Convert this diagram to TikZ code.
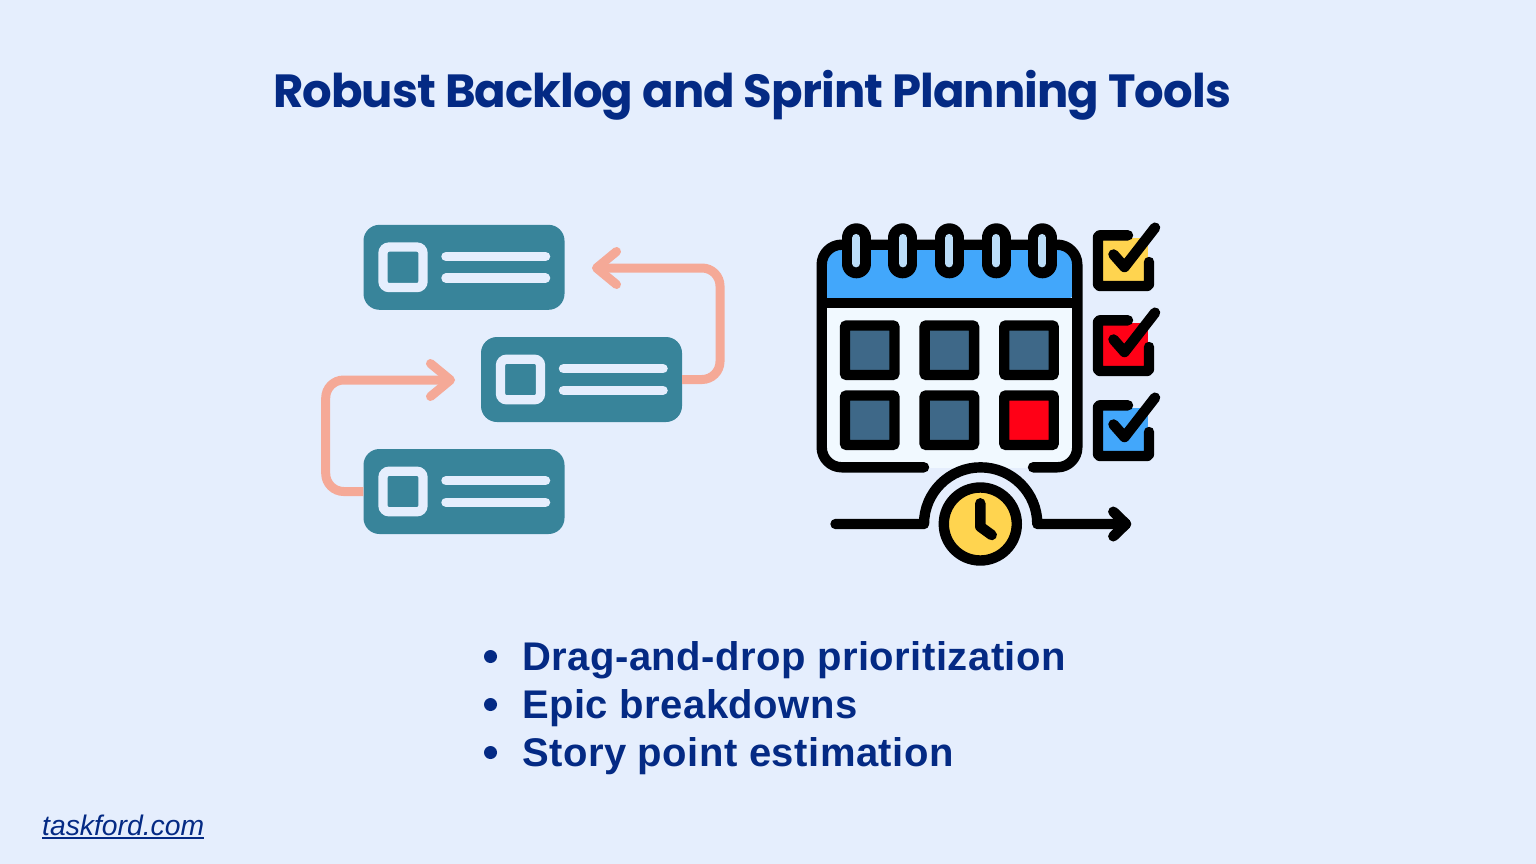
\documentclass[tikz,border=0pt]{standalone}
\usepackage{fontspec}
\setmainfont{Liberation Sans}
\newfontfamily\titlefont[LetterSpace=-2]{Poppins}
\newfontfamily\listfont[LetterSpace=1.2]{Liberation Sans}
\usetikzlibrary{arrows.meta,calc}
\definecolor{pagebg}{HTML}{E5EEFD}
\definecolor{inkblue}{HTML}{042A84}
\definecolor{cardteal}{HTML}{38849A}
\definecolor{flowpeach}{HTML}{F5A997}
\definecolor{calblue}{HTML}{42A7FB}
\definecolor{calwhite}{HTML}{F1F9FF}
\definecolor{slitblue}{HTML}{BBDDF8}
\definecolor{slateblue}{HTML}{3E6888}
\definecolor{alertred}{HTML}{FF0016}
\definecolor{sunyellow}{HTML}{FFD44F}
\tikzset{
    cardbox/.style={fill=cardteal, rounded corners=16pt, minimum width=201pt, minimum height=85pt, inner sep=0pt},
    cardmark/.style={draw=pagebg, line width=9.3pt, rounded corners=6pt, minimum width=40pt, minimum height=40.5pt, inner sep=0pt},
    cardline/.style={pagebg, line width=9.5pt, line cap=round},
    flowline/.style={flowpeach, line width=9pt, rounded corners=18pt, -{Straight Barb[round,length=20pt,width=33pt]}},
    ink/.style={black, line width=10.4pt, line cap=round, line join=round},
    daybox/.style={draw=black, line width=10.4pt, rounded corners=2pt, minimum size=49.5pt, inner sep=0pt},
    listtext/.style={anchor=base west, inner sep=0pt, text=inkblue, font=\listfont\fontsize{40}{40}\selectfont\bfseries}
}
\begin{document}
\begin{tikzpicture}[x=1pt,y=-1pt]
    \useasboundingbox[fill=pagebg] (0,0) rectangle (1536,864);

    % heading
    \node[anchor=base, inner sep=0pt, text=inkblue, font=\titlefont\fontsize{46.5}{46.5}\selectfont\bfseries] (heading) at (752,107.5) {Robust Backlog and Sprint Planning Tools};

    % backlog cards
    \foreach \cname/\cx/\cy in {cardtop/464/267.3, cardmid/581.5/379.5, cardlow/464/491.5} {
        \node[cardbox] (\cname) at (\cx,\cy) {};
        \node[cardmark] (\cname-mark) at ($(\cname)+(-61,0)$) {};
        \draw[cardline] (\cx-18,\cy-10.8) -- (\cx+81.5,\cy-10.8);
        \draw[cardline] (\cx-18,\cy+10.8) -- (\cx+81.5,\cy+10.8);
    }
    \coordinate (backtip) at (592,268);
    \coordinate (forwardtip) at (455,380);
    \draw[flowline] (cardmid.east) -- (720,379.5) -- (720,268) -- (backtip);
    \draw[flowline] (cardlow.west) -- (325.7,491.5) -- (325.7,380) -- (forwardtip);

    % calendar
    \fill[calwhite, rounded corners=20pt] (821.7,303) -- (821.7,467.8) -- (1077.3,467.8) -- (1077.3,303) [sharp corners] -- cycle;
    \fill[calblue, rounded corners=20pt] (821.7,303) -- (821.7,244.7) -- (1077.3,244.7) -- (1077.3,303) [sharp corners] -- cycle;
    \draw[ink, rounded corners=20pt] (924,467.3) -- (821.7,467.3) -- (821.7,244.7) -- (1077.3,244.7) -- (1077.3,467.3) -- (1033,467.3);
    \draw[ink, line width=10.5pt, line cap=butt] (821.7,303) -- (1077.3,303);
    \foreach \rx in {856.3, 902.7, 949.3, 996, 1042.3} {
        \draw[black, line width=29pt, line cap=round] (\rx,237.8) -- (\rx,263.8);
        \draw[slitblue, line width=7.7pt, line cap=round] (\rx,237.8) -- (\rx,263.5);
    }
    \foreach \dname/\dx/\dy/\dcol in {dayA/869.7/350.2/slateblue, dayB/949.3/350.2/slateblue, dayC/1029/350.2/slateblue, dayD/869.7/420.2/slateblue, dayE/949.3/420.2/slateblue, dayF/1029/420.2/alertred} {
        \node[daybox, fill=\dcol] (\dname) at (\dx,\dy) {};
    }

    % check list
    \foreach \dy/\dcol in {0/sunyellow, 85/alertred, 170/calblue} {
        \begin{scope}[yshift=-\dy pt]
            \fill[\dcol] (1098,237.7) rectangle (1148.3,283);
            \draw[ink, rounded corners=2pt] (1128,235.3) -- (1098,235.3) -- (1098,286) -- (1149,286) -- (1149,262);
            \draw[ink, line width=10.5pt] (1113.5,254.5) -- (1124.5,267) -- (1155,227.7);
        \end{scope}
    }

    % timeline with clock
    \node[circle, draw=black, fill=sunyellow, line width=10.4pt, minimum size=73pt, inner sep=0pt] (clock) at (980.3,524) {};
    \draw[ink, line width=10.5pt] (980.3,503.3) -- (980.3,526.7) -- (991.7,535);
    \coordinate (linestart) at (835.5,524);
    \coordinate (lineend) at (1126,524);
    \draw[ink] (linestart) -- (924,524) arc (180:360:56.65) -- (lineend);
    \draw[ink] (1113.3,511.7) -- (lineend) -- (1113.3,536.3);

    % feature list
    \foreach \lname/\ly/\ltext in {itemA/670/Drag-and-drop prioritization, itemB/718/Epic breakdowns, itemC/766/Story point estimation} {
        \node[listtext] (\lname) at (522,\ly) {\ltext};
        \fill[inkblue] (490.5,\ly-13.5) circle (6.5pt);
    }

    % footer
    \node[anchor=base west, inner sep=0pt, text=inkblue, font=\fontsize{28.3}{28.3}\selectfont\itshape] (sitelink) at (42,835) {taskford.com};
    \draw[inkblue, line width=1.5pt] ([yshift=-2.8pt]sitelink.base west) -- ([yshift=-2.8pt]sitelink.base east);
\end{tikzpicture}
\end{document}
